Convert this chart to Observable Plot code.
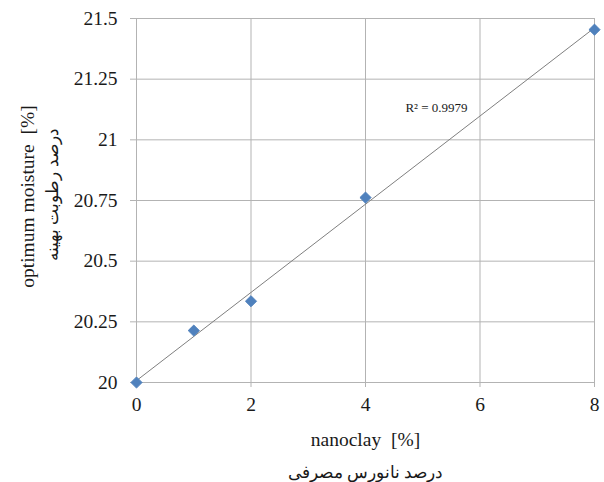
<!DOCTYPE html>
<html>
<head>
<meta charset="utf-8">
<script src="https://cdn.jsdelivr.net/npm/d3@7"></script>
<script src="https://cdn.jsdelivr.net/npm/@observablehq/plot@0.6"></script>
<style>
  html, body { margin: 0; padding: 0; background: #fff; }
  #chart svg text { font-family: 'Liberation Serif', 'Times New Roman', serif !important; font-variant-numeric: normal !important; }
</style>
</head>
<body>
<div id="chart"></div>
<script>
const nanoclay = [0, 1, 2, 4, 8];
const moisture = [20.0, 20.214, 20.335, 20.762, 21.454];
const xTicks = [0, 2, 4, 6, 8];
const yTicks = [20, 20.25, 20.5, 20.75, 21, 21.25, 21.5];
const xLabel = "nanoclay  [%]";
const xLabelFa = "درصد نانورس مصرفی";
const yLabel = "optimum moisture  [%]";
const yLabelFa = "درصد رطوبت بهینه";
const r2Label = "R² = 0.9979";

const data = nanoclay.map((x, i) => ({x, y: moisture[i]}));
const font = "'Liberation Serif', 'Times New Roman', serif";
const grid = "#b3b3b3";
const ink = "#1a1a1a";

const chart = Plot.plot({
  width: 604,
  height: 482,
  marginLeft: 136,
  marginRight: 10,
  marginTop: 18,
  marginBottom: 100,
  style: `font-family: ${font}; font-size: 19px; background: #fff; color: ${ink};`,
  x: {domain: [0, 8]},
  y: {domain: [20, 21.5]},
  marks: [
    Plot.gridX(xTicks, {stroke: grid, strokeOpacity: 1}),
    Plot.gridY(yTicks, {stroke: grid, strokeOpacity: 1}),
    Plot.frame({stroke: grid}),
    Plot.axisX(xTicks, {tickSize: 5, tickPadding: 10, stroke: grid, fontSize: 19.5, label: null, fill: ink, tickFormat: d => String(d)}),
    Plot.axisY(yTicks, {tickSize: 6, tickPadding: 13, stroke: grid, fontSize: 19.5, label: null, fill: ink, tickFormat: d => String(d)}),
    Plot.linearRegressionY(data, {x: "x", y: "y", ci: 0, stroke: "#7f7f7f", strokeWidth: 1}),
    Plot.dot(data, {x: "x", y: "y", symbol: "diamond2", r: 5, fill: "#4f81bd", stroke: "#4f81bd", strokeWidth: 1}),
    Plot.text([r2Label], {x: 5.24, y: 21.13, text: d => d, fontSize: 13, fill: ink, textAnchor: "middle"}),
    Plot.text([xLabel], {frameAnchor: "bottom", dy: 63, text: d => d, fontSize: 19.5, fill: ink, textAnchor: "middle"}),
    Plot.text([xLabelFa], {frameAnchor: "bottom", dy: 95, text: d => d, fontSize: 17, fill: ink, textAnchor: "middle"}),
    Plot.text([yLabel], {frameAnchor: "left", dx: -109, dy: -4, rotate: -90, text: d => d, fontSize: 19.5, fill: ink, textAnchor: "middle"}),
    Plot.text([yLabelFa], {frameAnchor: "left", dx: -84, dy: -6, rotate: -90, text: d => d, fontSize: 17, fill: ink, textAnchor: "middle"})
  ]
});
document.getElementById("chart").appendChild(chart);
</script>
</body>
</html>
